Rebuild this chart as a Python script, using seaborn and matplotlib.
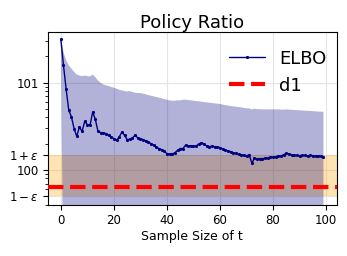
"""Policy ratio of the ELBO estimate against sample size."""

import matplotlib

matplotlib.use("Agg")

import matplotlib.pyplot as plt
import numpy as np
import pandas as pd
import seaborn as sns
from matplotlib.ticker import NullFormatter

# sample sizes 0..99
sample_size = list(range(100))

elbo_mean = [
    31.4, 15.8, 8.40, 4.83, 4.05, 2.97, 2.43, 3.11, 2.77, 3.61,
    3.31, 3.25, 4.62, 3.80, 2.77, 2.68, 2.68, 2.61, 2.50, 2.39,
    2.29, 2.19, 2.39, 2.72, 2.50, 2.23, 2.25, 2.33, 2.50, 2.33,
    2.29, 2.23, 2.15, 2.09, 2.00, 1.92, 1.83, 1.76, 1.71, 1.64,
    1.54, 1.52, 1.52, 1.58, 1.68, 1.76, 1.76, 1.92, 1.88, 1.90,
    1.88, 1.88, 1.99, 2.06, 1.99, 1.88, 1.85, 1.88, 1.85, 1.85,
    1.80, 1.74, 1.69, 1.66, 1.62, 1.58, 1.55, 1.51, 1.49, 1.47,
    1.45, 1.49, 1.20, 1.36, 1.33, 1.35, 1.35, 1.36, 1.37, 1.40,
    1.40, 1.42, 1.45, 1.45, 1.50, 1.55, 1.53, 1.49, 1.47, 1.47,
    1.46, 1.47, 1.47, 1.45, 1.47, 1.46, 1.45, 1.46, 1.44, 1.42,
]

elbo_upper = [
    31.4, 22.5, 18.0, 15.8, 14.5, 13.3, 12.4, 12.1, 11.9, 12.1,
    11.9, 11.8, 12.4, 11.6, 10.6, 10.0, 9.56, 9.33, 9.17, 8.93,
    8.77, 8.54, 8.32, 8.18, 8.03, 7.96, 8.03, 7.82, 7.69, 7.62,
    7.62, 7.49, 7.36, 7.23, 7.10, 6.98, 6.86, 6.74, 6.62, 6.51,
    6.39, 6.28, 6.22, 6.22, 6.28, 6.28, 6.39, 6.39, 6.33, 6.28,
    6.22, 6.17, 6.12, 6.06, 6.01, 5.95, 5.90, 5.85, 5.80, 5.75,
    5.70, 5.62, 5.55, 5.48, 5.41, 5.36, 5.31, 5.26, 5.22, 5.15,
    5.09, 5.09, 4.95, 5.04, 4.98, 4.97, 4.96, 4.95, 4.95, 4.95,
    4.95, 4.95, 4.95, 4.93, 4.91, 4.95, 4.92, 4.89, 4.87, 4.85,
    4.83, 4.81, 4.78, 4.76, 4.74, 4.72, 4.70, 4.68, 4.66, 4.66,
]

# lower band edge lies below the visible range except for the first sample
elbo_lower = [
    31.4, 0.03, 0.04, 0.05, 0.05, 0.06, 0.06, 0.07, 0.07, 0.08,
    0.08, 0.08, 0.09, 0.09, 0.09, 0.10, 0.10, 0.10, 0.11, 0.11,
    0.11, 0.11, 0.12, 0.12, 0.12, 0.12, 0.12, 0.13, 0.13, 0.13,
    0.13, 0.13, 0.14, 0.14, 0.14, 0.14, 0.14, 0.15, 0.15, 0.15,
    0.15, 0.15, 0.15, 0.16, 0.16, 0.16, 0.16, 0.16, 0.16, 0.17,
    0.17, 0.17, 0.17, 0.17, 0.17, 0.17, 0.18, 0.18, 0.18, 0.18,
    0.18, 0.18, 0.18, 0.18, 0.19, 0.19, 0.19, 0.19, 0.19, 0.19,
    0.19, 0.19, 0.19, 0.20, 0.20, 0.20, 0.20, 0.20, 0.20, 0.20,
    0.20, 0.20, 0.20, 0.21, 0.21, 0.21, 0.21, 0.21, 0.21, 0.21,
    0.21, 0.21, 0.21, 0.21, 0.22, 0.22, 0.22, 0.22, 0.22, 0.22,
]

d1_value = 0.645
epsilon = 0.5

y_ticks = [1 - epsilon, 1.0, 1 + epsilon, 10.0]
y_tick_labels = [r"$1-\varepsilon$", "100", r"$1+\varepsilon$", "101"]
x_ticks = [0, 20, 40, 60, 80, 100]


def main() -> None:
    sns.set_theme(
        style="whitegrid",
        rc={
            "axes.edgecolor": "black",
            "axes.linewidth": 0.8,
            "grid.color": "#e4e4e4",
            "grid.linewidth": 0.8,
            "xtick.bottom": True,
            "ytick.left": True,
            "xtick.major.size": 3.5,
            "ytick.major.size": 3.5,
            "ytick.minor.size": 2.0,
            "xtick.major.width": 0.8,
            "ytick.major.width": 0.8,
            "ytick.minor.width": 0.6,
            "xtick.color": "black",
            "ytick.color": "black",
            "text.color": "black",
            "axes.labelcolor": "black",
        },
    )
    plt.rcParams["font.family"] = ["DejaVu Sans"]

    data = pd.DataFrame({"t": sample_size, "ratio": elbo_mean})

    fig, ax = plt.subplots(figsize=(3.47, 2.56), dpi=100)
    fig.subplots_adjust(left=0.1375, right=0.970, bottom=0.198, top=0.875)

    ax.axhspan(1 - epsilon, 1 + epsilon, color="orange", alpha=0.3, lw=0, zorder=0.8)
    ax.fill_between(sample_size, elbo_lower, elbo_upper, color="navy", alpha=0.3, lw=0, zorder=1)
    sns.lineplot(
        data=data,
        x="t",
        y="ratio",
        color="navy",
        linewidth=1.0,
        marker=".",
        markersize=3,
        markeredgecolor="navy",
        label="ELBO",
        ax=ax,
        zorder=3,
    )
    ax.axhline(d1_value, color="red", linestyle="--", linewidth=3, label="d1", zorder=4)

    ax.set_yscale("log")
    ax.set_ylim(0.394, 38.1)
    ax.set_xlim(-4.95, 103.95)
    ax.set_yticks(y_ticks)
    ax.set_yticklabels(y_tick_labels)
    ax.yaxis.set_minor_formatter(NullFormatter())
    ax.set_xticks(x_ticks)
    ax.tick_params(axis="both", labelsize=8.5, pad=3)
    ax.grid(True, which="major")
    ax.grid(False, which="minor")

    ax.set_xlabel("Sample Size of t", fontsize=9, labelpad=2)
    ax.set_ylabel("")
    ax.set_title("Policy Ratio", fontsize=13, pad=2.5)
    ax.legend(
        loc="upper right",
        frameon=False,
        fontsize=13,
        borderaxespad=0,
        bbox_to_anchor=(0.99, 0.94),
    )

    fig.savefig("out.png", dpi=100)
    plt.close(fig)


if __name__ == "__main__":
    main()
